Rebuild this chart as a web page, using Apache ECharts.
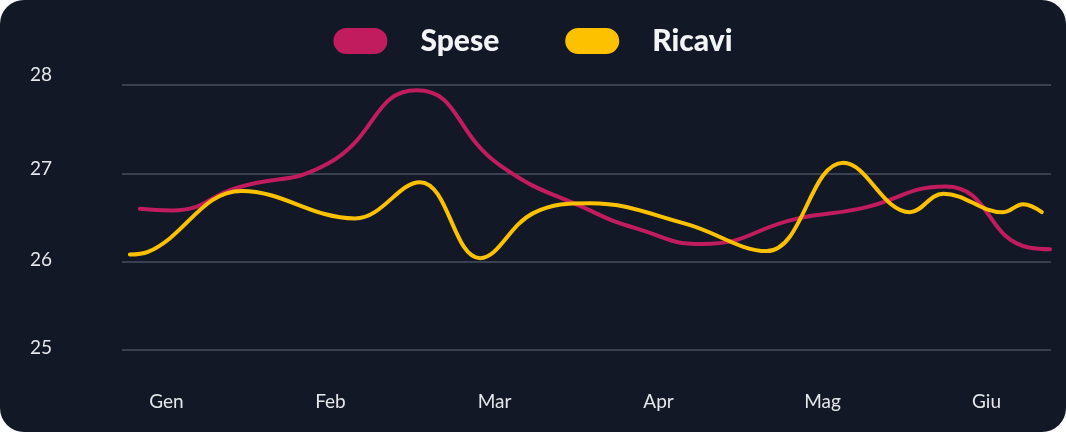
<!DOCTYPE html>
<html>
<head>
<meta charset="utf-8">
<script src="https://cdn.jsdelivr.net/npm/echarts@6/dist/echarts.min.js"></script>
<style>
html, body { margin: 0; padding: 0; background: #ffffff; }
#chart { width: 1066px; height: 432px; background: #121826; border-radius: 24px; overflow: hidden; }
</style>
</head>
<body>
<div id="chart"></div>
<script>
var mesi = ['Gen', 'Feb', 'Mar', 'Apr', 'Mag', 'Giu'];
var meseTicks = [0, 1, 2, 3, 4, 5];
var yTicks = [25, 26, 27, 28];

// posizione in mesi (0 = Gen)
var speseX = [-0.162, 0.034, 0.436, 0.985, 1.526, 2.034, 2.582, 2.860, 3.263, 3.851, 4.229, 4.75, 5.258, 5.387];
var speseY = [26.60, 26.58, 26.84, 27.11, 27.94, 27.09, 26.58, 26.38, 26.20, 26.49, 26.60, 26.85, 26.16, 26.14];

var ricaviX = [-0.223, -0.113, 0.459, 1.149, 1.546, 1.912, 2.237, 2.582, 3.162, 3.660, 4.127, 4.534, 4.737, 5.101, 5.223, 5.337];
var ricaviY = [26.08, 26.11, 26.80, 26.49, 26.90, 26.04, 26.55, 26.66, 26.43, 26.12, 27.12, 26.56, 26.77, 26.56, 26.65, 26.56];

// spostamento verso l'alto delle etichette y, come nel riferimento
var yLabelLift = { 25: 4, 26: 4, 27: 8, 28: 20 };

var pairs = function (xs, ys) {
	var out = [];
	for (var i = 0; i < xs.length; i++) {
		out.push([xs[i], ys[i]]);
	}
	return out;
};

var pill = 'path://M13 0H41A13 13 0 0 1 41 26H13A13 13 0 0 1 13 0Z';

var yRich = {};
yTicks.forEach(function (t) {
	yRich['t' + t] = {
		color: '#e5e7eb',
		fontFamily: 'Lato',
		fontSize: 19,
		padding: [0, 0, yLabelLift[t], 0]
	};
});

var chart = echarts.init(document.getElementById('chart'), null, { renderer: 'canvas' });
chart.setOption({
	animation: false,
	backgroundColor: 'transparent',
	legend: {
		top: 21,
		left: 'center',
		itemWidth: 54,
		itemHeight: 26,
		itemGap: 66,
		icon: pill,
		textStyle: {
			color: '#f3f4f6',
			fontFamily: 'Lato',
			fontWeight: 900,
			fontSize: 30,
			padding: [0, 0, 0, 28]
		},
		data: ['Spese', 'Ricavi']
	},
	grid: {
		left: 122,
		right: 15,
		top: 85,
		bottom: 82,
		containLabel: false
	},
	xAxis: {
		type: 'value',
		min: -0.271,
		max: 5.393,
		axisLine: { show: false },
		axisTick: { show: false },
		splitLine: { show: false },
		axisLabel: {
			customValues: meseTicks,
			margin: 42,
			color: '#e5e7eb',
			fontFamily: 'Lato',
			fontSize: 19,
			formatter: function (v) { return mesi[Math.round(v)]; }
		}
	},
	yAxis: {
		type: 'value',
		min: yTicks[0],
		max: yTicks[yTicks.length - 1],
		interval: 1,
		axisLine: { show: false },
		axisTick: { show: false },
		splitLine: { lineStyle: { color: '#394150', width: 2 } },
		axisLabel: {
			margin: 70,
			formatter: function (v) { return '{t' + v + '|' + v + '}'; },
			rich: yRich
		}
	},
	series: [{
		name: 'Spese',
		type: 'line',
		smooth: 0.5,
		showSymbol: false,
		color: '#c01c5e',
		lineStyle: { width: 4, cap: 'round' },
		data: pairs(speseX, speseY)
	}, {
		name: 'Ricavi',
		type: 'line',
		smooth: 0.4,
		showSymbol: false,
		color: '#fdc100',
		lineStyle: { width: 4, cap: 'round' },
		data: pairs(ricaviX, ricaviY)
	}]
});
</script>
</body>
</html>
